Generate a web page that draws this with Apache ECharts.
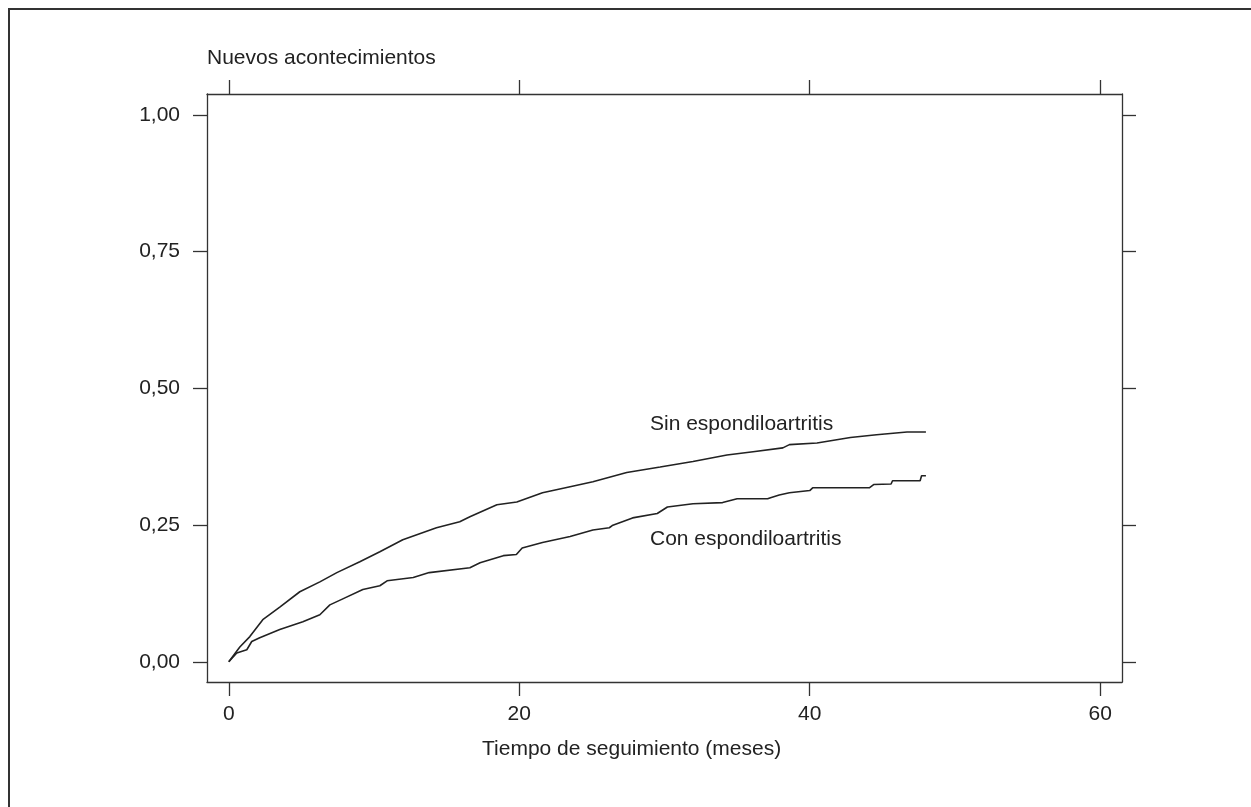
<!DOCTYPE html>
<html>
<head>
<meta charset="utf-8">
<script src="https://cdn.jsdelivr.net/npm/echarts@6/dist/echarts.min.js"></script>
<style>
    html, body { margin: 0; padding: 0; background: #fff; }
    #figure { width: 1251px; height: 807px; }
</style>
</head>
<body>
<div id="figure"></div>
<script>
    // curvas de incidencia acumulada
    const mesesSin = [0, 0.76, 1.45, 2.34, 3.51, 4.89, 6.27, 7.44, 9.02, 10.4, 11.98, 14.3, 15.9, 16.6, 18.46, 19.83,
        21.6, 23.5, 25.07, 27.4, 29.7, 31.96, 34.3, 36.1, 38.15, 38.6, 40.5, 42.8, 44.6, 46.7, 48];
    const riesgoSin = [0, 0.027, 0.046, 0.077, 0.100, 0.128, 0.146, 0.163, 0.183, 0.201, 0.223, 0.245, 0.256, 0.265, 0.287, 0.292,
        0.309, 0.320, 0.329, 0.346, 0.356, 0.366, 0.378, 0.384, 0.391, 0.397, 0.400, 0.410, 0.415, 0.420, 0.420];

    const mesesCon = [0, 0.55, 1.24, 1.58, 2.13, 3.51, 5.1, 6.27, 6.96, 7.85, 9.23, 10.4, 10.9, 12.7, 13.8, 16.6, 17.3,
        18.9, 19.8, 20.2, 21.6, 23.5, 25.07, 26.2, 26.4, 27.8, 29.5, 30.2, 31.96, 34.0, 35.0, 37.1, 37.3, 37.9,
        38.6, 40.0, 40.2, 44.1, 44.4, 45.6, 45.7, 47.6, 47.7, 48.0];
    const riesgoCon = [0, 0.016, 0.022, 0.037, 0.044, 0.059, 0.073, 0.086, 0.104, 0.115, 0.132, 0.139, 0.148, 0.154, 0.163, 0.172, 0.181,
        0.194, 0.196, 0.208, 0.218, 0.229, 0.241, 0.245, 0.249, 0.263, 0.271, 0.283, 0.289, 0.291, 0.298, 0.298, 0.300, 0.305,
        0.309, 0.313, 0.318, 0.318, 0.324, 0.325, 0.331, 0.331, 0.340, 0.340];

    const xTicks = [0, 20, 40, 60];
    const yTicks = [0, 0.25, 0.5, 0.75, 1];

    const etiquetas = [
        {texto: 'Sin espondiloartritis', x: 29.0, y: 0.434},
        {texto: 'Con espondiloartritis', x: 29.0, y: 0.224}
    ];

    const font = '"Liberation Sans", Arial, Helvetica, sans-serif';
    const ink = '#222';
    const lineColor = '#333';

    const pair = (xs, ys) => xs.map((x, i) => [x, ys[i]]);

    const $figure = document.getElementById('figure');
    const figure = echarts.init($figure, null, {renderer: 'canvas'});

    const xBase = {
        type: 'value',
        min: -1.5,
        max: 61.5,
        splitLine: {show: false},
        axisLine: {show: true, onZero: false, lineStyle: {color: lineColor, width: 1.3}},
        axisTick: {show: true, inside: false, length: 14, customValues: xTicks, lineStyle: {color: lineColor, width: 1.3}}
    };
    const yBase = {
        type: 'value',
        min: -0.037,
        max: 1.038,
        splitLine: {show: false},
        axisLine: {show: true, onZero: false, lineStyle: {color: lineColor, width: 1.3}},
        axisTick: {show: true, inside: false, length: 14, customValues: yTicks, lineStyle: {color: lineColor, width: 1.3}}
    };

    figure.setOption({
        animation: false,
        backgroundColor: '#fff',
        grid: {left: 207, top: 94, right: 129, bottom: 125},
        xAxis: [
            Object.assign({}, xBase, {
                position: 'bottom',
                axisLabel: {show: true, customValues: xTicks, margin: 22, fontSize: 21, color: ink, fontFamily: font}
            }),
            Object.assign({}, xBase, {position: 'top', axisLabel: {show: false}})
        ],
        yAxis: [
            Object.assign({}, yBase, {
                position: 'left',
                axisLabel: {
                    show: true, customValues: yTicks, margin: 27, fontSize: 21, color: ink, fontFamily: font,
                    formatter: v => v.toFixed(2).replace('.', ',')
                }
            }),
            Object.assign({}, yBase, {position: 'right', axisLabel: {show: false}})
        ],
        series: [{
            name: 'Sin espondiloartritis',
            type: 'line',
            data: pair(mesesSin, riesgoSin),
            symbol: 'none',
            lineStyle: {color: ink, width: 1.6}
        }, {
            name: 'Con espondiloartritis',
            type: 'line',
            data: pair(mesesCon, riesgoCon),
            symbol: 'none',
            lineStyle: {color: ink, width: 1.6}
        }]
    });

    const textos = etiquetas.map(e => {
        const p = figure.convertToPixel({gridIndex: 0}, [e.x, e.y]);
        return {
            type: 'text', x: p[0], y: p[1],
            style: {text: e.texto, fill: ink, font: '21px ' + font, textAlign: 'left', textVerticalAlign: 'middle'}
        };
    });

    figure.setOption({
        graphic: [
            {
                type: 'rect', shape: {x: 9, y: 9, width: 3000, height: 3000},
                style: {fill: null, stroke: lineColor, lineWidth: 2}, silent: true
            },
            {
                type: 'text', x: 207, y: 58,
                style: {text: 'Nuevos acontecimientos', fill: ink, font: '21px ' + font, textAlign: 'left', textVerticalAlign: 'middle'}
            },
            {
                type: 'text', x: 482, y: 749,
                style: {text: 'Tiempo de seguimiento (meses)', fill: ink, font: '21px ' + font, textAlign: 'left', textVerticalAlign: 'middle'}
            }
        ].concat(textos)
    });
</script>
</body>
</html>
